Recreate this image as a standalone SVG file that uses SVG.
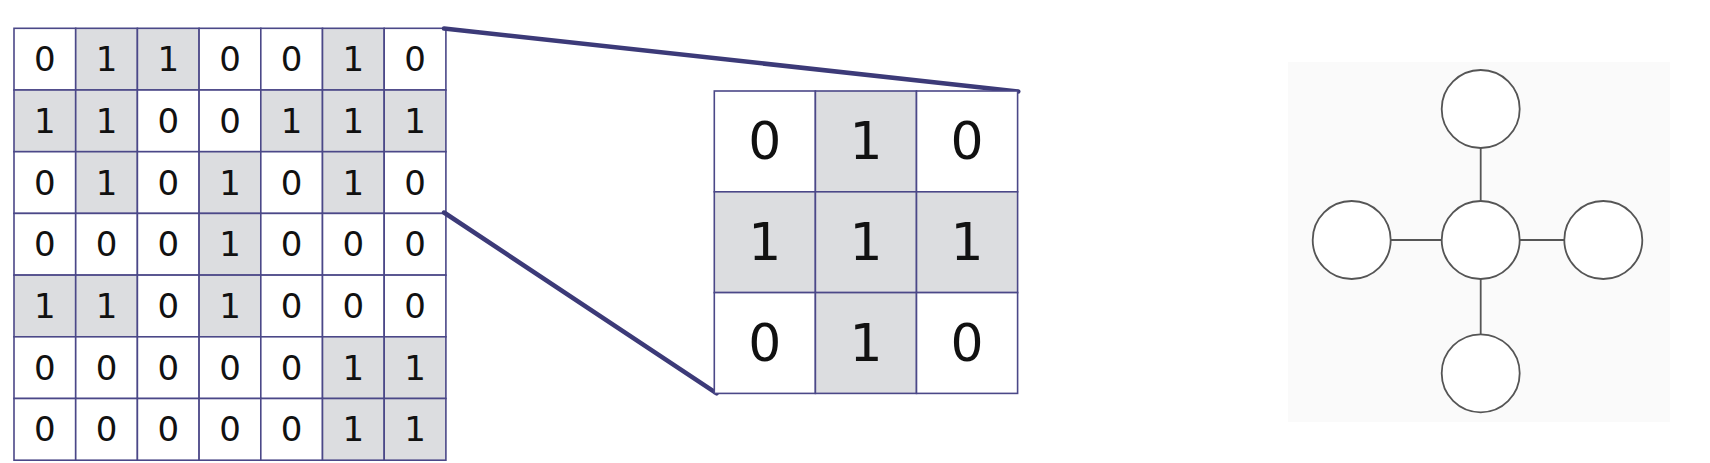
<svg xmlns="http://www.w3.org/2000/svg" width="1710" height="463" viewBox="0 0 1710 463">
<style>
.c{stroke:#4b4888;stroke-width:1.6;fill:#ffffff}
.g{fill:#dcdde0}
.t{font-family:"DejaVu Sans",sans-serif;font-size:34px;fill:#111;text-anchor:middle;dominant-baseline:central}
.T{font-family:"DejaVu Sans",sans-serif;font-size:52px;fill:#111;text-anchor:middle;dominant-baseline:central}
.zl{stroke:#3c3a78;stroke-width:4.5;stroke-linecap:round;fill:none}
.n{fill:#ffffff;stroke:#555;stroke-width:1.8}
.e{stroke:#555;stroke-width:1.8}
</style>
<rect width="1710" height="463" fill="#ffffff"/>
<g id="big-grid">
<g id="r0">
<rect class="c" x="14" y="28.3" width="61.7" height="61.7"/><text class="t" x="44.85" y="59.15">0</text>
<rect class="c g" x="75.7" y="28.3" width="61.7" height="61.7"/><text class="t" x="106.55" y="59.15">1</text>
<rect class="c g" x="137.4" y="28.3" width="61.7" height="61.7"/><text class="t" x="168.25" y="59.15">1</text>
<rect class="c" x="199.1" y="28.3" width="61.7" height="61.7"/><text class="t" x="229.95" y="59.15">0</text>
<rect class="c" x="260.8" y="28.3" width="61.7" height="61.7"/><text class="t" x="291.65" y="59.15">0</text>
<rect class="c g" x="322.5" y="28.3" width="61.7" height="61.7"/><text class="t" x="353.35" y="59.15">1</text>
<rect class="c" x="384.2" y="28.3" width="61.7" height="61.7"/><text class="t" x="415.05" y="59.15">0</text>
</g>
<g id="r1">
<rect class="c g" x="14" y="90" width="61.7" height="61.7"/><text class="t" x="44.85" y="120.85">1</text>
<rect class="c g" x="75.7" y="90" width="61.7" height="61.7"/><text class="t" x="106.55" y="120.85">1</text>
<rect class="c" x="137.4" y="90" width="61.7" height="61.7"/><text class="t" x="168.25" y="120.85">0</text>
<rect class="c" x="199.1" y="90" width="61.7" height="61.7"/><text class="t" x="229.95" y="120.85">0</text>
<rect class="c g" x="260.8" y="90" width="61.7" height="61.7"/><text class="t" x="291.65" y="120.85">1</text>
<rect class="c g" x="322.5" y="90" width="61.7" height="61.7"/><text class="t" x="353.35" y="120.85">1</text>
<rect class="c g" x="384.2" y="90" width="61.7" height="61.7"/><text class="t" x="415.05" y="120.85">1</text>
</g>
<g id="r2">
<rect class="c" x="14" y="151.7" width="61.7" height="61.7"/><text class="t" x="44.85" y="182.55">0</text>
<rect class="c g" x="75.7" y="151.7" width="61.7" height="61.7"/><text class="t" x="106.55" y="182.55">1</text>
<rect class="c" x="137.4" y="151.7" width="61.7" height="61.7"/><text class="t" x="168.25" y="182.55">0</text>
<rect class="c g" x="199.1" y="151.7" width="61.7" height="61.7"/><text class="t" x="229.95" y="182.55">1</text>
<rect class="c" x="260.8" y="151.7" width="61.7" height="61.7"/><text class="t" x="291.65" y="182.55">0</text>
<rect class="c g" x="322.5" y="151.7" width="61.7" height="61.7"/><text class="t" x="353.35" y="182.55">1</text>
<rect class="c" x="384.2" y="151.7" width="61.7" height="61.7"/><text class="t" x="415.05" y="182.55">0</text>
</g>
<g id="r3">
<rect class="c" x="14" y="213.4" width="61.7" height="61.7"/><text class="t" x="44.85" y="244.25">0</text>
<rect class="c" x="75.7" y="213.4" width="61.7" height="61.7"/><text class="t" x="106.55" y="244.25">0</text>
<rect class="c" x="137.4" y="213.4" width="61.7" height="61.7"/><text class="t" x="168.25" y="244.25">0</text>
<rect class="c g" x="199.1" y="213.4" width="61.7" height="61.7"/><text class="t" x="229.95" y="244.25">1</text>
<rect class="c" x="260.8" y="213.4" width="61.7" height="61.7"/><text class="t" x="291.65" y="244.25">0</text>
<rect class="c" x="322.5" y="213.4" width="61.7" height="61.7"/><text class="t" x="353.35" y="244.25">0</text>
<rect class="c" x="384.2" y="213.4" width="61.7" height="61.7"/><text class="t" x="415.05" y="244.25">0</text>
</g>
<g id="r4">
<rect class="c g" x="14" y="275.1" width="61.7" height="61.7"/><text class="t" x="44.85" y="305.95">1</text>
<rect class="c g" x="75.7" y="275.1" width="61.7" height="61.7"/><text class="t" x="106.55" y="305.95">1</text>
<rect class="c" x="137.4" y="275.1" width="61.7" height="61.7"/><text class="t" x="168.25" y="305.95">0</text>
<rect class="c g" x="199.1" y="275.1" width="61.7" height="61.7"/><text class="t" x="229.95" y="305.95">1</text>
<rect class="c" x="260.8" y="275.1" width="61.7" height="61.7"/><text class="t" x="291.65" y="305.95">0</text>
<rect class="c" x="322.5" y="275.1" width="61.7" height="61.7"/><text class="t" x="353.35" y="305.95">0</text>
<rect class="c" x="384.2" y="275.1" width="61.7" height="61.7"/><text class="t" x="415.05" y="305.95">0</text>
</g>
<g id="r5">
<rect class="c" x="14" y="336.8" width="61.7" height="61.7"/><text class="t" x="44.85" y="367.65">0</text>
<rect class="c" x="75.7" y="336.8" width="61.7" height="61.7"/><text class="t" x="106.55" y="367.65">0</text>
<rect class="c" x="137.4" y="336.8" width="61.7" height="61.7"/><text class="t" x="168.25" y="367.65">0</text>
<rect class="c" x="199.1" y="336.8" width="61.7" height="61.7"/><text class="t" x="229.95" y="367.65">0</text>
<rect class="c" x="260.8" y="336.8" width="61.7" height="61.7"/><text class="t" x="291.65" y="367.65">0</text>
<rect class="c g" x="322.5" y="336.8" width="61.7" height="61.7"/><text class="t" x="353.35" y="367.65">1</text>
<rect class="c g" x="384.2" y="336.8" width="61.7" height="61.7"/><text class="t" x="415.05" y="367.65">1</text>
</g>
<g id="r6">
<rect class="c" x="14" y="398.5" width="61.7" height="61.7"/><text class="t" x="44.85" y="429.35">0</text>
<rect class="c" x="75.7" y="398.5" width="61.7" height="61.7"/><text class="t" x="106.55" y="429.35">0</text>
<rect class="c" x="137.4" y="398.5" width="61.7" height="61.7"/><text class="t" x="168.25" y="429.35">0</text>
<rect class="c" x="199.1" y="398.5" width="61.7" height="61.7"/><text class="t" x="229.95" y="429.35">0</text>
<rect class="c" x="260.8" y="398.5" width="61.7" height="61.7"/><text class="t" x="291.65" y="429.35">0</text>
<rect class="c g" x="322.5" y="398.5" width="61.7" height="61.7"/><text class="t" x="353.35" y="429.35">1</text>
<rect class="c g" x="384.2" y="398.5" width="61.7" height="61.7"/><text class="t" x="415.05" y="429.35">1</text>
</g>
</g>
<g id="zoom-lines">
<line class="zl" x1="444" y1="28.5" x2="1018.3" y2="91.5"/>
<line class="zl" x1="444" y1="212.5" x2="716.7" y2="393.3"/>
</g>
<g id="small-grid">
<rect class="c" x="714.3" y="91" width="101.1" height="100.8"/><text class="T" x="764.85" y="141.4">0</text>
<rect class="c g" x="815.4" y="91" width="101.1" height="100.8"/><text class="T" x="865.95" y="141.4">1</text>
<rect class="c" x="916.5" y="91" width="101.1" height="100.8"/><text class="T" x="967.05" y="141.4">0</text>
<rect class="c g" x="714.3" y="191.8" width="101.1" height="100.8"/><text class="T" x="764.85" y="242.2">1</text>
<rect class="c g" x="815.4" y="191.8" width="101.1" height="100.8"/><text class="T" x="865.95" y="242.2">1</text>
<rect class="c g" x="916.5" y="191.8" width="101.1" height="100.8"/><text class="T" x="967.05" y="242.2">1</text>
<rect class="c" x="714.3" y="292.6" width="101.1" height="100.8"/><text class="T" x="764.85" y="343">0</text>
<rect class="c g" x="815.4" y="292.6" width="101.1" height="100.8"/><text class="T" x="865.95" y="343">1</text>
<rect class="c" x="916.5" y="292.6" width="101.1" height="100.8"/><text class="T" x="967.05" y="343">0</text>
</g>
<rect id="graph-panel" x="1288" y="62" width="382" height="360" fill="#fafafa"/>
<g id="edges">
<line class="e" x1="1480.7" y1="148" x2="1480.7" y2="201"/>
<line class="e" x1="1480.7" y1="279" x2="1480.7" y2="334.3"/>
<line class="e" x1="1390.7" y1="240" x2="1441.7" y2="240"/>
<line class="e" x1="1519.7" y1="240" x2="1564.3" y2="240"/>
</g>
<g id="node-top"><circle class="n" cx="1480.7" cy="109" r="39"/></g>
<g id="node-center"><circle class="n" cx="1480.7" cy="240" r="39"/></g>
<g id="node-left"><circle class="n" cx="1351.7" cy="240" r="39"/></g>
<g id="node-right"><circle class="n" cx="1603.3" cy="240" r="39"/></g>
<g id="node-bottom"><circle class="n" cx="1480.7" cy="373.3" r="39"/></g>
</svg>
